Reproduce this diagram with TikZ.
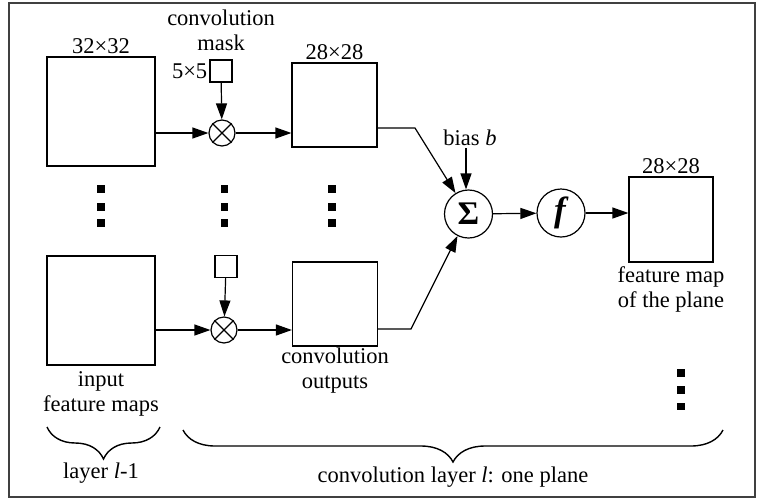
\documentclass[tikz,border=0pt]{standalone}
\usepackage{fontspec}
\setmainfont{LiberationSerif}[Extension=.ttf, UprightFont=*-Regular, BoldFont=*-Bold,
  ItalicFont=*-Italic, BoldItalicFont=*-BoldItalic]
\usepackage{tikz}
\usetikzlibrary{positioning, arrows.meta, decorations.pathreplacing, calc}
\tikzset{
  fmap/.style  ={draw, line width=1.2pt, inner sep=0pt, fill=white},
  mask/.style  ={draw, line width=1.2pt, inner sep=0pt, minimum size=22pt},
  op/.style    ={draw, circle, line width=1.2pt, inner sep=0pt, fill=white},
  flow/.style  ={-{Triangle[length=16pt, width=11pt]}, line width=1.2pt},
  lbl/.style   ={font=\rmfamily\fontsize{22.5}{25}\selectfont, align=center, inner sep=2pt},
  brc/.style   ={decorate, decoration={brace, amplitude=32pt}, line width=1.4pt},
}

\begin{document}
\begin{tikzpicture}[x=1pt, y=-1pt, lbl]
  \useasboundingbox (0,0) rectangle (757,499);
  \draw[line width=1.4pt, black!75] (9,3) rectangle (755,497);

  % input maps of layer l-1
  \node[fmap, minimum width=108pt, minimum height=109pt,
        label={[lbl]above:32×32}] (in1) at (101,111.5) {};
  \node[fmap, minimum width=108pt, minimum height=109pt] (in2) at (101,310.5) {};
  \node[lbl] (intxt) at (101,394) {input\\feature maps};

  % masks and products
  \node[mask, label={[lbl]left:5×5}] (mask1) at (221,71) {};
  \node[lbl] (masktxt) at (221,30) {convolution\\mask};
  \node[mask] (mask2) at (226,266.5) {};
  \node[op, minimum size=26pt] (mul1) at (222,133) {};
  \node[op, minimum size=26pt] (mul2) at (224,330) {};
  \foreach \m in {mul1, mul2} {
    \draw[line width=1.1pt] (\m.north west) -- (\m.south east);
    \draw[line width=1.1pt] (\m.north east) -- (\m.south west);
  }

  % convolution outputs
  \node[fmap, minimum width=85pt, minimum height=84pt,
        label={[lbl]above:28×28}] (out1) at (334.5,105) {};
  \node[fmap, minimum width=85pt, minimum height=84pt] (out2) at (335,304) {};
  \node[lbl] (outtxt) at (335,371) {convolution\\outputs};

  % sum, activation, feature map of the plane
  \node[op, minimum size=48pt, font=\rmfamily\fontsize{33}{33}\selectfont\bfseries] (sum) at (468.5,214) {Σ};
  \node[lbl] (bias) at (470,138) {bias \textit{b}};
  \node[op, minimum size=48pt, font=\rmfamily\fontsize{35}{35}\selectfont\bfseries\itshape] (act) at (561,213) {f\kern2pt};
  \node[fmap, minimum width=84pt, minimum height=85pt,
        label={[lbl]above:28×28}] (plane) at (671,219.5) {};
  \node[lbl] (planetxt) at (671,289) {feature map\\of the plane};

  \coordinate (k1) at (415,128);
  \coordinate (k2) at (411,329);

  \draw[flow] (mul1 -| in1.east) -- (mul1);
  \draw[flow] (mul2 -| in2.east) -- (mul2);
  \draw[flow] (mask1) -- (mul1);
  \draw[flow] (mask2) -- (mul2);
  \draw[flow] (mul1) -- (mul1 -| out1.west);
  \draw[flow] (mul2) -- (mul2 -| out2.west);
  \draw[flow] (k1 -| out1.east) -- (k1) -- (sum);
  \draw[flow] (k2 -| out2.east) -- (k2) -- (sum);
  \draw[flow] (bias.south -| 466,0) -- (sum.north -| 466,0);
  \draw[flow] (sum) -- (act);
  \draw[flow] (act) -- (act -| plane.west);

  % ellipsis dots
  \foreach \x in {101,224.5,332}
    \foreach \y in {189,207,223}
      \fill (\x-3.7,\y-3.7) rectangle +(7.4,7.4);
  \foreach \y in {373,390,406.5}
    \fill (681-3.7,\y-3.7) rectangle +(7.4,7.4);

  % braces
  \draw[brc] (160,427) -- (47,427);
  \draw[brc] (723,430) -- (183,430);
  \node[lbl] (lprev) at (101,473) {layer \textit{l}-1};
  \node[lbl] (lconv) at (453,477) {convolution layer \textit{l}: one plane};
\end{tikzpicture}
\end{document}
